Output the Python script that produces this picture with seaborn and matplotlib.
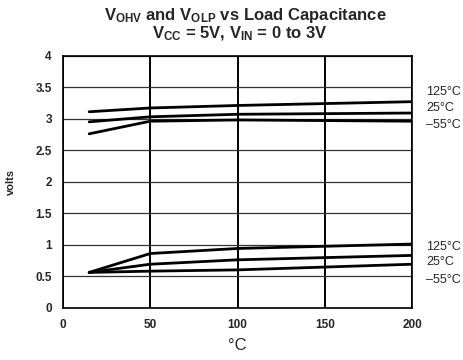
import matplotlib
matplotlib.use("Agg")
import matplotlib.pyplot as plt
import seaborn as sns
import pandas as pd

# Temperature axis (°C) sample points
temps = [15, 50, 100, 200]
curves = ["125°C", "25°C", "–55°C"]

# V_OHV (upper group), volts
vohv_125 = [3.11, 3.17, 3.21, 3.27]
vohv_25 = [2.95, 3.03, 3.07, 3.09]
vohv_m55 = [2.76, 2.96, 2.98, 2.96]

# V_OLP (lower group), volts
volp_125 = [0.56, 0.86, 0.94, 1.01]
volp_25 = [0.56, 0.69, 0.76, 0.83]
volp_m55 = [0.56, 0.58, 0.60, 0.69]

x_ticks = [0, 50, 100, 150, 200]
y_ticks = [0, 0.5, 1, 1.5, 2, 2.5, 3, 3.5, 4]
y_tick_labels = ["0", "0.5", "1", "1.5", "2", "2.5", "3", "3.5", "4"]

rows = []
for group, series in (("VOHV", (vohv_125, vohv_25, vohv_m55)),
                      ("VOLP", (volp_125, volp_25, volp_m55))):
    for name, vals in zip(curves, series):
        for t, v in zip(temps, vals):
            rows.append({"temp": t, "volts": v, "curve": f"{group} {name}"})
df = pd.DataFrame(rows)

sns.set_style("white")
plt.rcParams["font.family"] = ["Liberation Sans", "DejaVu Sans"]
plt.rcParams["mathtext.fontset"] = "custom"
plt.rcParams["mathtext.rm"] = "Liberation Sans:bold"
plt.rcParams["mathtext.bf"] = "Liberation Sans:bold"
plt.rcParams["mathtext.it"] = "Liberation Sans:bold"

fig = plt.figure(figsize=(4.63, 3.6), dpi=100)
ax = fig.add_axes([0.136, 0.1453, 0.7545, 0.7000])

sns.lineplot(data=df, x="temp", y="volts", hue="curve", units="curve",
             estimator=None, palette=["black"] * 6, linewidth=2.0,
             legend=False, ax=ax, zorder=3)

ax.set_xlim(0, 200)
ax.set_ylim(0, 4)
ax.set_xticks(x_ticks)
ax.set_yticks(y_ticks)
ax.set_yticklabels(y_tick_labels)
ax.tick_params(axis="both", length=0, labelsize=8.5, pad=8)
for lab in ax.get_xticklabels() + ax.get_yticklabels():
    lab.set_fontweight("bold")

ax.yaxis.grid(True, color="#333333", linewidth=0.9)
ax.xaxis.grid(True, color="black", linewidth=1.4)
for s in ax.spines.values():
    s.set_color("black")
    s.set_linewidth(1.2)

ax.set_xlabel("°C", fontsize=12, labelpad=5)
ax.set_ylabel("volts", fontsize=8, fontweight="bold", labelpad=14)

# Curve labels at the right edge
for label, yv in zip(curves, [3.43, 3.17, 2.90]):
    ax.text(1.04, yv / 4, label, transform=ax.transAxes, fontsize=9,
            va="center", ha="left")
for label, yv in zip(curves, [0.97, 0.72, 0.44]):
    ax.text(1.04, yv / 4, label, transform=ax.transAxes, fontsize=9,
            va="center", ha="left")

fig.text(0.529, 0.957, r"V$_{\mathbf{OHV}}$ and V$_{\mathbf{OLP}}$ vs Load Capacitance",
         ha="center", va="center", fontsize=12, fontweight="bold")
fig.text(0.518, 0.906, r"V$_{\mathbf{CC}}$ = 5V, V$_{\mathbf{IN}}$ = 0 to 3V",
         ha="center", va="center", fontsize=12, fontweight="bold")

fig.savefig("out.png", dpi=100)
